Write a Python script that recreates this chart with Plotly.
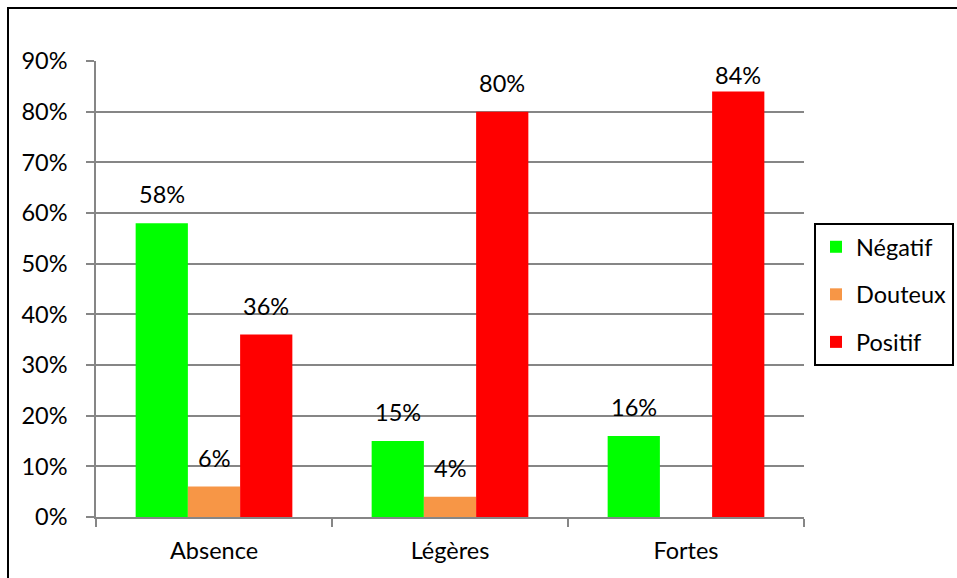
import plotly.graph_objects as go

# Categories and series (share of each result per intensity group)
categories = ["Absence", "Légères", "Fortes"]
series_names = ["Négatif", "Douteux", "Positif"]
negatif = [0.58, 0.15, 0.16]
douteux = [0.06, 0.04, None]
positif = [0.36, 0.80, 0.84]
colors = ["#00FF00", "#F79646", "#FF0000"]
y_ticks = [0, 0.1, 0.2, 0.3, 0.4, 0.5, 0.6, 0.7, 0.8, 0.9]
y_tick_text = ["0%", "10%", "20%", "30%", "40%", "50%", "60%", "70%", "80%", "90%"]

W, H = 957, 578
ML, MR, MT, MB = 96, 153, 61, 61
plot_w = W - ML - MR
plot_h = H - MT - MB
y_max = 0.9
bargap = 0.336

FONT = "Lato, Carlito, Calibri, sans-serif"
FS = 23.5

fig = go.Figure()
all_values = [negatif, douteux, positif]
for name, vals, col in zip(series_names, all_values, colors):
    fig.add_trace(go.Bar(
        x=categories, y=vals, name=name, marker=dict(color=col, line=dict(width=0)),
        legendgroup=name,
    ))

# value labels above each bar
cat_px = plot_w / len(categories)
bar_px = cat_px * (1 - bargap) / len(series_names)
px_per_unit = plot_h / y_max
label_h = FS * 1.3
annotations = []
for i, vals in enumerate(all_values):
    for cat, v in zip(categories, vals):
        if v is None:
            continue
        room = (y_max - v) * px_per_unit - label_h
        shift = max(0, min(13, room))
        annotations.append(dict(
            x=cat, y=v, xref="x", yref="y", text=f"{round(v * 100)}%",
            showarrow=False, yanchor="bottom", xanchor="center",
            xshift=(i - 1) * bar_px, yshift=shift,
            font=dict(family=FONT, size=FS, color="#000000"),
        ))

# chart frame
shapes = [dict(
    type="rect", xref="paper", yref="paper",
    x0=(8 - ML) / plot_w, x1=(W + 10 - ML) / plot_w,
    y0=-(MB + 10) / plot_h, y1=(H - MB - 8) / plot_h,
    line=dict(color="#000000", width=2), fillcolor="rgba(0,0,0,0)", layer="below",
)]

fig.update_layout(
    width=W, height=H,
    margin=dict(l=ML, r=MR, t=MT, b=MB, autoexpand=False),
    paper_bgcolor="white", plot_bgcolor="white",
    barmode="group", bargap=bargap, bargroupgap=0,
    font=dict(family=FONT, size=FS, color="#000000"),
    showlegend=True,
    legend=dict(
        xref="container", yref="container",
        x=814 / W, y=1 - 223 / H, xanchor="left", yanchor="top",
        bordercolor="#000000", borderwidth=2, bgcolor="white",
        font=dict(family=FONT, size=FS, color="#000000"),
        traceorder="grouped", tracegroupgap=14,
    ),
    xaxis=dict(
        type="category", showgrid=False, showline=True, linecolor="#868686", linewidth=1.5,
        ticks="outside", tickson="boundaries", ticklen=8, tickcolor="#868686", tickwidth=1.5,
        ticklabelstandoff=12,
        tickfont=dict(family=FONT, size=FS, color="#000000"),
    ),
    yaxis=dict(
        range=[0, y_max], tickvals=y_ticks, ticktext=y_tick_text,
        showgrid=True, gridcolor="#868686", gridwidth=1.5,
        showline=True, linecolor="#868686", linewidth=1.5,
        ticks="outside", ticklen=8, tickcolor="#868686", tickwidth=1.5,
        ticklabelstandoff=14, zeroline=False,
        tickfont=dict(family=FONT, size=FS, color="#000000"),
    ),
    annotations=annotations,
    shapes=shapes,
)

fig.write_html("out.html")
